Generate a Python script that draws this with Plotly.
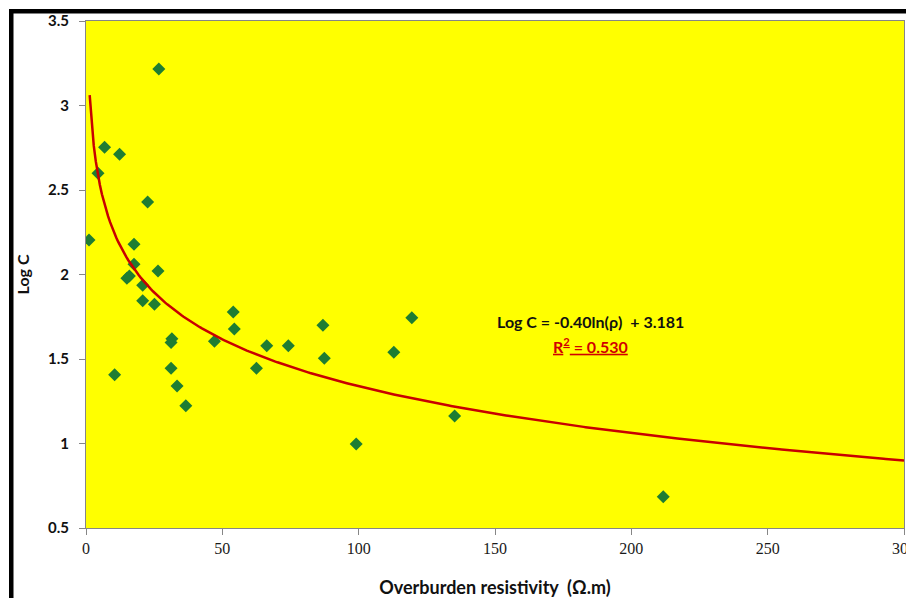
import numpy as np
import plotly.graph_objects as go

# Measured data (overburden resistivity in ohm.m, Log C)
resistivity = [26.7, 6.8, 12.3, 4.4, 22.6, 1.1, 17.6, 17.6, 26.4, 15.0, 15.9,
               20.8, 20.8, 25.1, 54.0, 54.4, 31.5, 31.2, 47.1, 66.3, 74.2,
               62.5, 31.2, 10.5, 33.4, 36.6, 99.1, 86.9, 87.4, 119.5, 112.9,
               135.2, 211.7]
log_c = [3.216, 2.753, 2.711, 2.599, 2.429, 2.204, 2.179, 2.060, 2.021, 1.978,
         1.991, 1.936, 1.845, 1.824, 1.778, 1.678, 1.620, 1.597, 1.605, 1.579,
         1.579, 1.445, 1.445, 1.407, 1.340, 1.224, 0.997, 1.699, 1.504, 1.744,
         1.540, 1.163, 0.685]

# Logarithmic trendline printed on the chart: Log C = a ln(rho) + b
trend_a = -0.40
trend_b = 3.181
trend_x = np.linspace(1.35, 300, 400)
trend_y = trend_a * np.log(trend_x) + trend_b

x_ticks = [0, 50, 100, 150, 200, 250, 300]
y_ticks = [0.5, 1, 1.5, 2, 2.5, 3, 3.5]
y_tick_text = ["0.5", "1", "1.5", "2", "2.5", "3", "3.5"]

W, H = 906, 598
ML, MR, MT, MB = 86, 2, 21, 70
PW = W - ML - MR
PH = H - MT - MB

def px_to_paper_x(px):
    return (px - ML) / PW

def px_to_paper_y(py):
    return (H - MB - py) / PH

fig = go.Figure()
fig.add_trace(go.Scatter(
    x=resistivity, y=log_c, mode="markers",
    marker=dict(symbol="diamond", size=10, color="#1E7D32",
                line=dict(width=0)),
    showlegend=False, hoverinfo="x+y"))
fig.add_trace(go.Scatter(
    x=trend_x, y=trend_y, mode="lines",
    line=dict(color="#C80000", width=2.5),
    showlegend=False, hoverinfo="skip"))

fig.update_layout(
    width=W, height=H,
    margin=dict(l=ML, r=MR, t=MT, b=MB, pad=0, autoexpand=False),
    paper_bgcolor="white",
    plot_bgcolor="#FFFF00",
    xaxis=dict(range=[0, 300], tickvals=x_ticks, ticks="outside",
               ticklen=6, tickcolor="#868686", showgrid=False,
               zeroline=False, showline=True, linecolor="#868686",
               linewidth=1, mirror=True, automargin=False,
               ticklabeloverflow="allow",
               tickfont=dict(family="Liberation Serif", size=16,
                             color="#1a1a1a"),
               title=dict(text="<b>Overburden resistivity  (Ω.m)</b>",
                          font=dict(family="Lato", size=18, color="#111111"),
                          standoff=25)),
    yaxis=dict(range=[0.5, 3.5], tickvals=y_ticks,
               ticktext=[f"<b>{t}</b>" for t in y_tick_text],
               ticks="outside", ticklen=6, tickcolor="#868686",
               showgrid=False, zeroline=False, showline=True,
               linecolor="#868686", linewidth=1, mirror=True,
               automargin=False, ticklabelstandoff=7,
               tickfont=dict(family="Lato", size=15, color="#111111"),
               title=dict(text="<b>Log C</b>",
                          font=dict(family="Lato", size=16, color="#111111"),
                          standoff=14)),
    annotations=[
        dict(x=(590 - ML) / PW * 300, y=1.72, xref="x", yref="y",
             showarrow=False,
             text="<b>Log C = -0.40ln(ρ)  + 3.181</b>",
             font=dict(family="Lato", size=16, color="#111111")),
        dict(x=(590 - ML) / PW * 300, y=1.58, xref="x", yref="y",
             showarrow=False,
             text="<b><u>R<sup>2</sup> = 0.530</u></b>",
             font=dict(family="Lato", size=16, color="#D00000")),
    ],
    shapes=[
        dict(type="rect", xref="paper", yref="paper", layer="above",
             x0=px_to_paper_x(9), x1=px_to_paper_x(13.5),
             y0=px_to_paper_y(9), y1=px_to_paper_y(600),
             fillcolor="black", line=dict(width=0)),
        dict(type="rect", xref="paper", yref="paper", layer="above",
             x0=px_to_paper_x(9), x1=px_to_paper_x(910),
             y0=px_to_paper_y(9), y1=px_to_paper_y(13.5),
             fillcolor="black", line=dict(width=0)),
    ],
)

fig.write_html("out.html",
               config=dict(displayModeBar=False),
               post_script="document.body.style.margin='0';"
                           "document.body.style.overflow='hidden';")
